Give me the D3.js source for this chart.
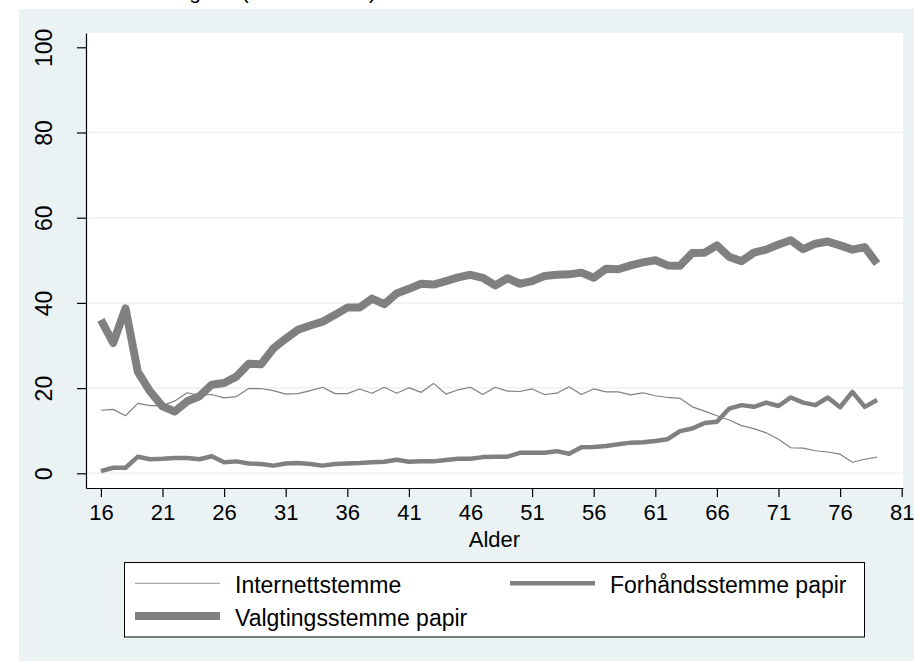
<!DOCTYPE html>
<html>
<head>
<meta charset="utf-8">
<script src="https://cdn.jsdelivr.net/npm/d3@7"></script>
<style>
    body { margin: 0; background: #ffffff; }
    text { font-family: "Liberation Sans", Arial, sans-serif; fill: #000; }
</style>
</head>
<body>
<svg id="chart"></svg>
<script>
// Alder 16-79, prosent per stemmemåte
const ages = d3.range(16, 80);

const internett = [14.8, 15.0, 13.5, 16.4, 15.9, 15.9, 17.0, 18.9, 18.3, 18.5,
    17.7, 18.0, 19.9, 19.9, 19.4, 18.6, 18.7, 19.4, 20.2, 18.7,
    18.7, 19.8, 18.8, 20.2, 18.8, 20.1, 19.0, 21.1, 18.6, 19.6,
    20.2, 18.5, 20.2, 19.3, 19.2, 19.8, 18.5, 18.8, 20.3, 18.5,
    19.8, 19.1, 19.1, 18.4, 18.9, 18.2, 17.8, 17.6, 15.6, 14.6,
    13.5, 12.5, 11.2, 10.5, 9.5, 8.0, 6.0, 5.9, 5.3, 5.0,
    4.5, 2.6, 3.3, 3.8];

const forhand = [0.5, 1.3, 1.3, 3.9, 3.3, 3.4, 3.6, 3.6, 3.3, 4.0,
    2.6, 2.8, 2.3, 2.2, 1.8, 2.3, 2.4, 2.2, 1.8, 2.2,
    2.3, 2.4, 2.6, 2.7, 3.2, 2.7, 2.8, 2.8, 3.1, 3.4,
    3.4, 3.8, 3.9, 3.9, 4.8, 4.8, 4.8, 5.2, 4.6, 6.1,
    6.2, 6.4, 6.8, 7.2, 7.3, 7.6, 8.0, 9.9, 10.5, 11.8,
    12.1, 15.2, 16.0, 15.6, 16.6, 15.8, 17.8, 16.6, 16.0, 17.8,
    15.5, 19.1, 15.6, 17.2];

const valgting = [36.0, 30.6, 38.7, 23.8, 19.2, 15.7, 14.5, 16.9, 18.1, 20.8,
    21.2, 22.7, 25.7, 25.6, 29.3, 31.6, 33.7, 34.7, 35.6, 37.2,
    38.9, 38.9, 41.0, 39.7, 42.2, 43.3, 44.5, 44.3, 45.1, 46.0,
    46.6, 45.9, 44.1, 45.8, 44.5, 45.1, 46.3, 46.6, 46.7, 47.1,
    45.9, 48.0, 47.9, 48.8, 49.5, 50.0, 48.8, 48.7, 51.7, 51.8,
    53.5, 50.8, 49.8, 51.8, 52.5, 53.7, 54.7, 52.6, 53.9, 54.4,
    53.5, 52.5, 53.1, 49.2];

const xTicks = d3.range(16, 82, 5);
const yTicks = [0, 20, 40, 60, 80, 100];
const seriesNames = ["Internettstemme", "Forhåndsstemme papir", "Valgtingsstemme papir"];

class LineChart {
    constructor(_config) {
        this.config = {
            parentElement: _config.parentElement,
            containerWidth: 914,
            containerHeight: 661,
            plot: { left: 86, right: 903, top: 33, bottom: 488 }
        };
        this.series = [
            { name: seriesNames[0], values: internett, width: 1.2 },
            { name: seriesNames[1], values: forhand, width: 4.5 },
            { name: seriesNames[2], values: valgting, width: 8 }
        ];
        this.initVis();
    }

    initVis() {
        let vis = this;
        const p = vis.config.plot;

        vis.svg = d3.select(vis.config.parentElement)
            .attr('width', vis.config.containerWidth)
            .attr('height', vis.config.containerHeight);

        // outer graph region
        vis.svg.append('rect')
            .attr('x', 19).attr('y', 9)
            .attr('width', vis.config.containerWidth - 19)
            .attr('height', vis.config.containerHeight - 9)
            .attr('fill', '#eaf2f3');

        // title, cut off at the top of the picture
        vis.svg.append('text')
            .attr('x', 376).attr('y', -1.5)
            .attr('text-anchor', 'end')
            .attr('font-size', '21px')
            .text('Kommuner med forsøksordningene (alle stemmer)');

        vis.svg.append('rect')
            .attr('x', p.left).attr('y', p.top)
            .attr('width', p.right - p.left)
            .attr('height', p.bottom - p.top)
            .attr('fill', '#ffffff');

        // 0 -> 473.3px, 100 -> 47.3px
        vis.yScale = d3.scaleLinear()
            .domain([(473.3 - p.bottom) / 4.26, (473.3 - p.top) / 4.26])
            .range([p.bottom, p.top]);

        vis.xScale = d3.scaleLinear()
            .domain([16 - (100.9 - p.left) / 12.32, 81 + (p.right - 901.7) / 12.32])
            .range([p.left, p.right]);

        // gridlines
        vis.svg.append('g')
            .selectAll('line')
            .data(yTicks.filter(d => d < 100))
            .join('line')
            .attr('x1', p.left).attr('x2', p.right)
            .attr('y1', d => vis.yScale(d)).attr('y2', d => vis.yScale(d))
            .attr('stroke', '#eaf2f3')
            .attr('stroke-width', 1.5);

        // lines
        vis.line = d3.line()
            .x((d, i) => vis.xScale(ages[i]))
            .y(d => vis.yScale(d));

        vis.svg.append('g')
            .selectAll('path')
            .data(vis.series)
            .join('path')
            .attr('d', d => vis.line(d.values))
            .attr('fill', 'none')
            .attr('stroke', '#808080')
            .attr('stroke-width', d => d.width)
            .attr('stroke-linejoin', 'round');

        // axes
        vis.yAxis = d3.axisLeft(vis.yScale)
            .tickValues(yTicks)
            .tickSize(9)
            .tickSizeOuter(0)
            .tickPadding(4);

        vis.xAxis = d3.axisBottom(vis.xScale)
            .tickValues(xTicks)
            .tickSize(9)
            .tickSizeOuter(0)
            .tickPadding(7);

        vis.yAxisG = vis.svg.append('g')
            .attr('transform', `translate(${p.left},0)`)
            .call(vis.yAxis);

        // rotated y tick labels, centred on the tick
        vis.yAxisG.selectAll('.tick text')
            .attr('font-size', '23px')
            .attr('font-family', '"Liberation Sans", Arial, sans-serif')
            .attr('text-anchor', 'middle')
            .attr('x', 0).attr('y', 0).attr('dy', null)
            .attr('dominant-baseline', 'central')
            .attr('transform', 'translate(-42,0) rotate(-90)');

        vis.xAxisG = vis.svg.append('g')
            .attr('transform', `translate(0,${p.bottom})`)
            .call(vis.xAxis);
        vis.xAxisG.selectAll('text')
            .attr('font-size', '22px')
            .attr('font-family', '"Liberation Sans", Arial, sans-serif');

        vis.svg.selectAll('.domain, .tick line')
            .attr('stroke', '#000')
            .attr('stroke-width', 1.2);

        vis.svg.append('text')
            .attr('x', (p.left + p.right) / 2)
            .attr('y', 547)
            .attr('text-anchor', 'middle')
            .attr('font-size', '22px')
            .text('Alder');

        vis.renderLegend();
    }

    renderLegend() {
        let vis = this;
        const lg = vis.svg.append('g');

        lg.append('rect')
            .attr('x', 124.5).attr('y', 562.5)
            .attr('width', 740).attr('height', 74.5)
            .attr('fill', '#ffffff')
            .attr('stroke', '#000')
            .attr('stroke-width', 1);

        const slots = [
            { x: 135, y: 583.3 },
            { x: 510, y: 583.3 },
            { x: 135, y: 616 }
        ];

        const items = lg.selectAll('.legend-item')
            .data(vis.series)
            .join('g')
            .attr('class', 'legend-item')
            .attr('transform', (d, i) => `translate(${slots[i].x},${slots[i].y})`);

        items.append('line')
            .attr('x1', 0).attr('x2', 85)
            .attr('y1', 0).attr('y2', 0)
            .attr('stroke', (d, i) => i === 0 ? '#a8a8a8' : '#808080')
            .attr('stroke-width', d => d.width);

        items.append('text')
            .attr('x', 100)
            .attr('y', 9.5)
            .attr('font-size', '23px')
            .text(d => d.name);
    }
}

new LineChart({ parentElement: '#chart' });
</script>
</body>
</html>
